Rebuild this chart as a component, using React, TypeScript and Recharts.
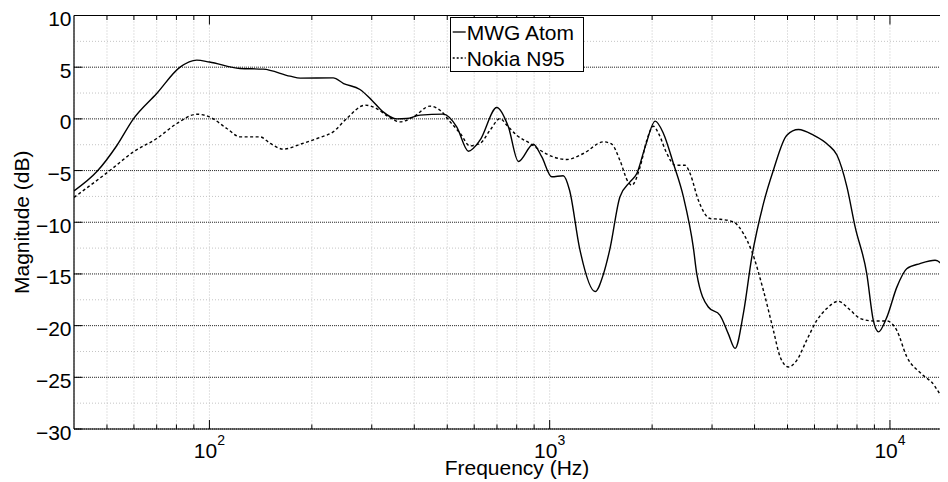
import React from 'react';
import { LineChart, Line, XAxis, YAxis, CartesianGrid, ReferenceLine, Legend } from 'recharts';

// ---- data ----
const mwgFreq = [40, 46.7, 53.4, 59.8, 70, 82, 91.8, 100, 123, 144, 172.6, 185, 231, 248, 277, 300, 324, 355, 380, 416, 487, 533, 577, 624, 699, 756, 809, 895, 948, 1014, 1096, 1144, 1224, 1360, 1440, 1505, 1608, 1722, 1803, 1908, 2042, 2159, 2310, 2472, 2645, 2705, 2925, 3167, 3350, 3507, 3710, 3925, 4247, 4543, 4977, 5385, 5960, 6598, 6985, 7473, 7900, 8547, 8935, 9250, 9786, 10470, 11200, 12250, 13570, 14140, 14810];
const mwgDb = [-6.97, -5.1, -2.6, 0, 2.45, 5.0, 5.68, 5.5, 4.88, 4.81, 4.13, 3.94, 3.97, 3.42, 2.84, 1.81, 0.68, 0, 0.03, 0.36, 0.46, -0.77, -3.13, -2.06, 1.1, -0.77, -4.12, -2.45, -3.68, -5.6, -5.5, -6.9, -12.5, -16.7, -14.97, -12.5, -7.55, -6.1, -5.29, -2.71, -0.22, -1.41, -4.32, -7.55, -12.5, -14.97, -18.2, -19.0, -20.8, -22.2, -18.8, -13.4, -8.2, -4.97, -1.58, -1.03, -1.58, -2.55, -3.5, -6.58, -10.45, -14.97, -19.5, -20.6, -19.2, -16.3, -14.5, -14.0, -13.68, -14.0, -15.0];

const nokiaFreq = [40, 51.1, 59.8, 70, 80.2, 91.8, 100, 112.5, 123, 141, 151, 165, 185, 211, 231, 253, 287, 310, 336, 363, 398, 445, 476, 510, 546, 583, 624, 668, 715, 748, 800, 876, 937, 1025, 1123, 1256, 1440, 1522, 1608, 1700, 1742, 1844, 1930, 2018, 2089, 2210, 2336, 2500, 2586, 2735, 2960, 3167, 3467, 3710, 3925, 4247, 4543, 4753, 5029, 5322, 5693, 6095, 6520, 7052, 7640, 8165, 8935, 9786, 10470, 11200, 12360, 13570, 14300, 14810];
const nokiaDb = [-7.6, -4.97, -3.19, -1.9, -0.45, 0.45, 0.2, -0.93, -1.74, -1.74, -2.38, -2.93, -2.45, -1.8, -1.26, 0.03, 1.33, 1.0, 0.2, -0.29, 0.2, 1.23, 0.84, -0.29, -1.41, -2.61, -2.38, -1.09, 0.03, -0.61, -1.58, -2.38, -3.03, -3.68, -3.93, -3.35, -2.22, -2.45, -4.0, -6.1, -6.42, -4.64, -2.06, -0.71, -1.41, -3.35, -4.48, -4.48, -5.29, -7.87, -9.64, -9.71, -9.97, -11.1, -12.8, -16.6, -20.45, -23.0, -24.0, -23.36, -21.4, -19.5, -18.35, -17.65, -18.5, -19.3, -19.55, -19.55, -20.45, -23.0, -24.65, -25.9, -27.4, -29.6];

const xTicks = [50, 60, 70, 80, 90, 100, 200, 300, 400, 500, 600, 700, 800, 900, 1000, 2000, 3000, 4000, 5000, 6000, 7000, 8000, 9000, 10000];
const xMajorTicks = [100, 1000, 10000];
const yTicks = [-30, -27.5, -25, -22.5, -20, -17.5, -15, -12.5, -10, -7.5, -5, -2.5, 0, 2.5, 5, 7.5, 10];
const yMajorTicks = [-30, -25, -20, -15, -10, -5, 0, 5, 10];
const seriesNames = ['MWG Atom', 'Nokia N95'];

const mwgData = mwgFreq.map((f, i) => ({ f, v: mwgDb[i] }));
const nokiaData = nokiaFreq.map((f, i) => ({ f, v: nokiaDb[i] }));

// ---- layout ----
const W = 940;
const H = 474;
const MARGIN_TOP = 7.5;
const Y_AXIS_W = 66;
const X_AXIS_H = 53;
const PLOT_LEFT = Y_AXIS_W;
const PLOT_TOP = MARGIN_TOP;
const PLOT_BOTTOM = H - X_AXIS_H;
const FONT = '"Liberation Sans", Arial, Helvetica, sans-serif';

const fmtY = (v: number) => (v < 0 ? '\u2212' + Math.abs(v) : String(v));

const XTick = (props: any) => {
  const { x, payload } = props;
  const v = payload.value as number;
  const major = xMajorTicks.includes(v);
  const len = major ? 9 : 4.5;
  const exp = Math.round(Math.log10(v));
  return (
    <g>
      <line x1={x} x2={x} y1={PLOT_BOTTOM} y2={PLOT_BOTTOM - len} stroke="#000" strokeWidth={1} />
      <line x1={x} x2={x} y1={PLOT_TOP} y2={PLOT_TOP + len} stroke="#000" strokeWidth={1} />
      {major && (
        <text x={x} y={450} textAnchor="middle" fontFamily={FONT} fontSize={21} fill="#000">
          <tspan>10</tspan>
          <tspan dy={-13} fontSize={14}>{exp}</tspan>
        </text>
      )}
    </g>
  );
};

const YTick = (props: any) => {
  const { y, payload } = props;
  const v = payload.value as number;
  const major = yMajorTicks.includes(v);
  if (!major) return <g />;
  return (
    <g>
      <line x1={PLOT_LEFT} x2={PLOT_LEFT + 8} y1={y} y2={y} stroke="#000" strokeWidth={1} />
      <text x={PLOT_LEFT - 2.5} y={y} dy="0.5em" textAnchor="end" fontFamily={FONT} fontSize={21} fill="#000">
        {fmtY(v)}
      </text>
    </g>
  );
};

const XLabel = (props: any) => {
  const vb = props.viewBox || {};
  return (
    <text x={vb.x + vb.width / 2 + 6} y={467} textAnchor="middle" fontFamily={FONT} fontSize={21} fill="#000">
      Frequency (Hz)
    </text>
  );
};

const LegendBox = () => (
  <svg width={134} height={55} style={{ display: 'block' }}>
    <rect x={0.5} y={0.5} width={133} height={54} fill="#fff" stroke="#000" strokeWidth={1} />
    <line x1={2.7} x2={15.7} y1={15} y2={15} stroke="#000" strokeWidth={1.3} />
    <text x={16.7} y={15} dy="0.36em" fontFamily={FONT} fontSize={21} fill="#000">{seriesNames[0]}</text>
    <line x1={2.7} x2={15.7} y1={41} y2={41} stroke="#000" strokeWidth={1.3} strokeDasharray="2 2" />
    <text x={16.7} y={41} dy="0.36em" fontFamily={FONT} fontSize={21} fill="#000">{seriesNames[1]}</text>
  </svg>
);

export default function App() {
  return (
    <div style={{ width: W, height: H, background: '#fff' }}>
      <style>{'html, body { overflow: hidden; } svg.recharts-surface { overflow: visible; }'}</style>
      <LineChart
        width={W}
        height={H}
        margin={{ top: MARGIN_TOP, right: 0, left: 0, bottom: 0 }}
      >
        <CartesianGrid stroke="#c4c4c4" strokeDasharray="1 2" strokeWidth={1} />
        {yMajorTicks.map((v) => (
          <ReferenceLine key={v} y={v} stroke="#333" strokeDasharray="1 1" strokeWidth={1} />
        ))}
        <ReferenceLine y={10} stroke="#000" strokeWidth={1.2} />
        <XAxis
          type="number"
          dataKey="f"
          scale="log"
          domain={[40, 14810]}
          allowDataOverflow
          ticks={xTicks}
          interval={0}
          tickLine={false}
          axisLine={{ stroke: '#000', strokeWidth: 1.2 }}
          height={X_AXIS_H}
          tick={<XTick />}
          label={<XLabel />}
        />
        <YAxis
          type="number"
          domain={[-30, 10]}
          allowDataOverflow
          ticks={yTicks}
          interval={0}
          width={Y_AXIS_W}
          tickLine={false}
          axisLine={{ stroke: '#000', strokeWidth: 1.2 }}
          tick={<YTick />}
          label={{ value: 'Magnitude (dB)', angle: -90, position: 'insideLeft', offset: 14, style: { textAnchor: 'middle' }, fontFamily: FONT, fontSize: 21, fill: '#000' }}
        />
        <Line
          data={mwgData}
          dataKey="v"
          name={seriesNames[0]}
          type="monotone"
          stroke="#000"
          strokeWidth={1.4}
          dot={false}
          activeDot={false}
          isAnimationActive={false}
        />
        <Line
          data={nokiaData}
          dataKey="v"
          name={seriesNames[1]}
          type="monotone"
          stroke="#000"
          strokeWidth={1.4}
          strokeDasharray="3 2.5"
          dot={false}
          activeDot={false}
          isAnimationActive={false}
        />
        <Legend
          layout="horizontal"
          verticalAlign="middle"
          align="center"
          content={() => <LegendBox />}
          wrapperStyle={{ position: 'absolute', left: 442, top: 9, width: 134, height: 55 }}
        />
      </LineChart>
    </div>
  );
}
